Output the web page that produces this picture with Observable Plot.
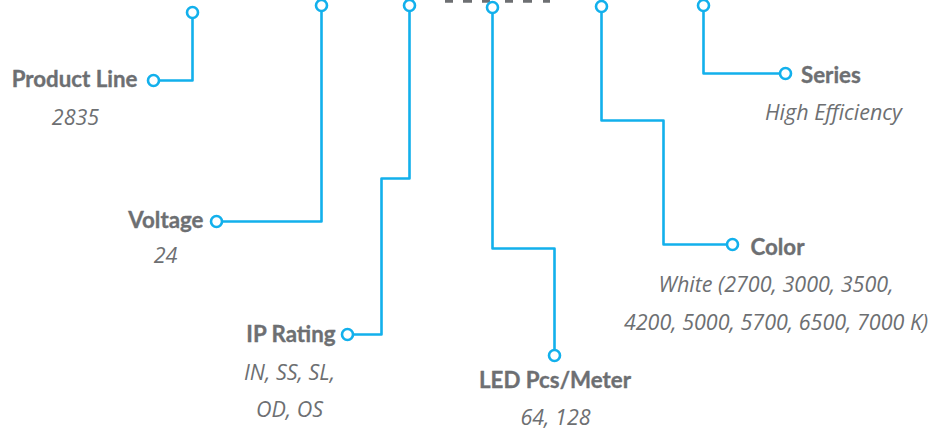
<!DOCTYPE html>
<html>
<head>
<meta charset="utf-8">
<script src="https://cdn.jsdelivr.net/npm/d3@7"></script>
<script src="https://cdn.jsdelivr.net/npm/@observablehq/plot@0.6"></script>
<style>
  html, body { margin: 0; padding: 0; background: #fff; }
  #chart svg { display: block; }
</style>
</head>
<body>
<div id="chart"></div>
<script>
// Callout labels and their values
const labels = ["Product Line", "Voltage", "IP Rating", "LED Pcs/Meter", "Color", "Series"];
const valueLines = [
  ["2835"],
  ["24"],
  ["IN, SS, SL,", "OD, OS"],
  ["64, 128"],
  ["White (2700, 3000, 3500,", "4200, 5000, 5700, 6500, 7000 K)"],
  ["High Efficiency"]
];
// Connector routes (diagram coordinates, px)
const routes = [
  [[192, 12], [192, 80], [153, 80]],
  [[321, 5], [321, 221], [216, 221]],
  [[409, 5], [409, 178], [381, 178], [381, 334], [347, 334]],
  [[492, 7], [492, 248], [554, 248], [554, 355]],
  [[601, 6], [601, 120], [663, 120], [663, 244], [732, 244]],
  [[703, 5], [703, 73], [785, 73]]
];
// Label anchor points and alignment
const labelX = [137, 203, 335, 554.5, 750, 800.5];
const labelY = [79, 220, 334.6, 380, 247.6, 75.6];
const labelAnchor = ["end", "end", "end", "middle", "start", "start"];
// Value text centres and line spacing
const valueX = [75, 165, 289, 555, 775.5, 833];
const valueY = [118, 256, 373, 418, 285, 113];
const valueGap = [0, 0, 37, 0, 37.5, 0];
// Dashes of the cut-off product code at the top
const dashStart = [445, 463, 482, 505, 523, 543];
const dashEnd = [453, 472, 490, 513, 532, 550];

const lineRows = routes.flatMap((r, i) => r.map(([x, y], j) => ({id: i, x, y, j})));
const topNodes = routes.map((r, i) => ({id: i, x: r[0][0], y: r[0][1]}));
const endNodes = routes.map((r, i) => ({id: i, x: r[r.length - 1][0], y: r[r.length - 1][1]}));
const labelRows = labels.map((t, i) => ({t, x: labelX[i], y: labelY[i], a: labelAnchor[i]}));
const valueRows = valueLines.flatMap((lines, i) => lines.map((t, k) => ({t, x: valueX[i], y: valueY[i] + k * valueGap[i]})));
const dashRows = dashStart.map((s, i) => ({x1: s, x2: dashEnd[i], y: 0}));

const blue = "#12b0ec";
const gray = "#6d6f72";
const labelFont = "Lato, 'Open Sans', sans-serif";
const valueFont = "'Open Sans', sans-serif";

const labelOpts = a => ({x: "x", y: "y", text: "t", textAnchor: a, lineAnchor: "middle", fontSize: 22.3, fontWeight: 700, fontFamily: labelFont, fill: gray, stroke: gray, strokeWidth: 0.35});

const chart = Plot.plot({
  width: 933,
  height: 432,
  margin: 0,
  x: {domain: [0, 933], range: [0, 933], axis: null},
  y: {domain: [0, 432], range: [0, 432], axis: null},
  style: {background: "#fff"},
  marks: [
    Plot.ruleY(dashRows, {x1: "x1", x2: "x2", y: "y", stroke: gray, strokeWidth: 4.5}),
    Plot.line(lineRows, {x: "x", y: "y", z: "id", stroke: blue, strokeWidth: 2.6, curve: "linear"}),
    Plot.dot(topNodes, {x: "x", y: "y", r: 5.5, fill: "#fff", stroke: blue, strokeWidth: 2.6}),
    Plot.dot(endNodes, {x: "x", y: "y", r: 5.5, fill: "#fff", stroke: blue, strokeWidth: 2.6}),
    Plot.text(labelRows.filter(d => d.a === "end"), labelOpts("end")),
    Plot.text(labelRows.filter(d => d.a === "start"), labelOpts("start")),
    Plot.text(labelRows.filter(d => d.a === "middle"), labelOpts("middle")),
    Plot.text(valueRows, {x: "x", y: "y", text: "t", textAnchor: "middle", lineAnchor: "middle", fontSize: 21.5, fontStyle: "italic", fontFamily: valueFont, fill: gray})
  ]
});
document.getElementById("chart").appendChild(chart);
</script>
</body>
</html>
